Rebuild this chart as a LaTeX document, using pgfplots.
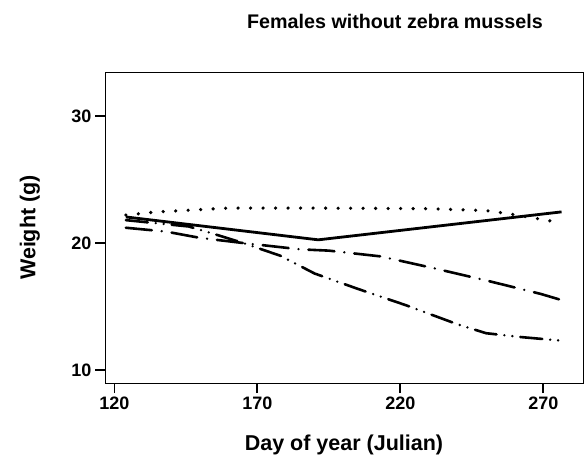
\documentclass[border=0pt]{standalone}
\usepackage{fontspec}
\setmainfont{Liberation Sans}
\usepackage{pgfplots}
\pgfplotsset{compat=1.18}
\begin{document}
\begin{tikzpicture}
\path[use as bounding box] (0,0) rectangle (585pt,459pt);
\begin{axis}[
  at={(105pt,76pt)}, anchor=south west,
  width=478pt, height=311pt, scale only axis,
  xmin=116.7, xmax=283.9, ymin=8.98, ymax=33.46,
  xtick={120,170,220,270}, ytick={10,20,30},
  tick align=outside, tick pos=left,
  major tick length=10pt,
  every tick/.style={black, line width=1.8pt},
  axis line style={line width=0.9pt},
  tick label style={font=\fontsize{18}{20}\selectfont\bfseries},
  /pgf/number format/assume math mode=true,
  /pgf/number format/1000 sep={},
  xlabel={Day of year (Julian)}, ylabel={Weight (g)},
  label style={font=\fontsize{21.5}{24}\selectfont\bfseries},
  xlabel style={at={(axis description cs:0.5,0)}, anchor=center, yshift=-62pt},
  ylabel style={at={(axis description cs:-0.157,0.5)}, anchor=center},
]
% solid
\addplot[black, line width=2.8pt, line join=round] coordinates {
  (124,22.05) (191.3,20.25) (276.4,22.45)};
% dotted
\addplot[black, line width=3.6pt, line cap=round, dash pattern=on 0pt off 12.5pt] coordinates {
  (124,22.2) (135,22.45) (160,22.75) (190,22.75) (230,22.7) (250,22.55) (258,22.3) (266,22.0) (276,21.6)};
% long dash - dot
\addplot[black, line width=2.6pt, line cap=round, dash pattern=on 26pt off 10pt on 0pt off 10pt] coordinates {
  (124,21.2) (138,20.9) (150,20.4) (165,20.0) (185,19.5) (195,19.4) (213,18.95) (232,18.0) (251,17.0) (269,16.0) (278,15.4)};
% long dash - dot - dot
\addplot[black, line width=2.6pt, line cap=round, dash pattern=on 22pt off 8pt on 0pt off 8pt on 0pt off 8pt] coordinates {
  (124,21.8) (146,21.3) (155,20.7) (165,20.0) (178,19.0) (190,17.6) (205,16.4) (222,15.1) (240,13.6) (250,12.9) (262,12.6) (277,12.3)};
\end{axis}
\node[font=\fontsize{19.7}{22}\selectfont\bfseries] at (395pt,438pt) {Females without zebra mussels};
\end{tikzpicture}
\end{document}
